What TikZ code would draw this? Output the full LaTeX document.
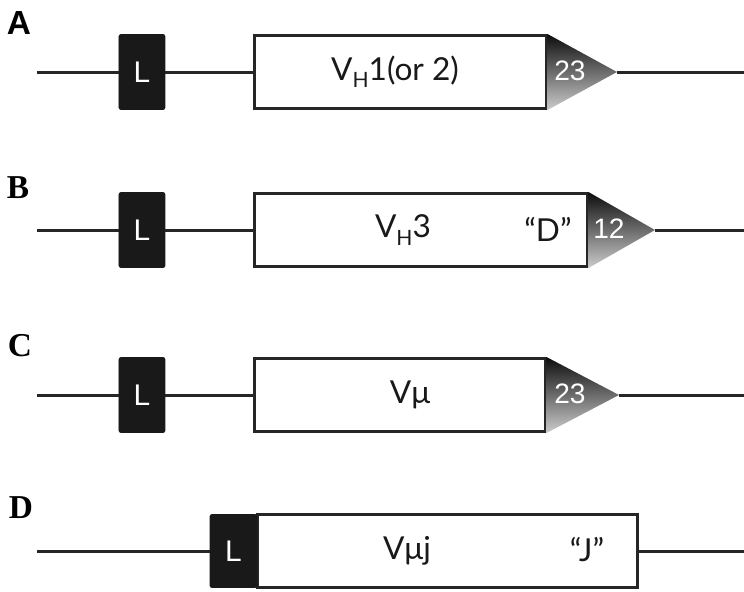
\documentclass[tikz,border=0pt]{standalone}
\usepackage{fontspec}
\setmainfont{Lato}
\newfontfamily\tagfont{Liberation Sans}
\newfontfamily\panelfont{Liberation Serif}
\newcommand{\hsub}{\raisebox{-0.45ex}{\fontsize{12}{14}\selectfont H}}
\begin{document}
\begin{tikzpicture}[
    dnaline/.style={line width=0.06cm, draw=black!85},
    leader/.style={draw=black!90, fill=black!90, rounded corners=0.04cm,
        minimum width=0.92cm, minimum height=1.50cm, inner sep=0pt,
        text=white, font=\tagfont\fontsize{17}{19}\selectfont},
    segment/.style={draw=black!85, line width=0.06cm, fill=white,
        minimum height=1.46cm, inner sep=0pt},
    seglabel/.style={text=black!90, font=\fontsize{18}{20}\selectfont},
    rss/.style={top color=black!95, middle color=black!80, bottom color=black!20},
    rsslabel/.style={text=white, font=\tagfont\fontsize{16}{18}\selectfont},
    panel/.style={font=\panelfont\bfseries\fontsize{19}{21}\selectfont}
  ]
  \useasboundingbox (0,0) rectangle (14.880000,11.820000);
  {

  % Drawing row A
  \coordinate (sA) at (0.740000,10.380000);%
  \coordinate (tA) at (12.340000,10.380000);%
  \coordinate (eA) at (14.880000,10.380000);%
  \node [segment, minimum width=5.840000cm] (vA) at (8.000000,10.380000) {};%
  \node [leader] (lA) at (2.840000,10.380000) {L};%
  \draw [dnaline] (sA) -- (lA);%
  \draw [dnaline] (lA) -- (vA);%
  \shade [rss] (vA.north east) -- (tA) -- (vA.south east) -- cycle;%
  \draw [dnaline] (tA) -- (eA);%
  \node [seglabel] (gA) at (7.900000,10.380000) {V\hsub1(or 2)};%
  \node [rsslabel] (nA) at (11.400000,10.400000) {23};%
  \node [panel, font=\tagfont\bfseries\fontsize{19}{21}\selectfont] (pA) at (0.380000,11.360000) {A};%

  % Drawing row B
  \coordinate (sB) at (0.740000,7.220000);%
  \coordinate (tB) at (13.100000,7.220000);%
  \coordinate (eB) at (14.880000,7.220000);%
  \node [segment, minimum width=6.660000cm] (vB) at (8.410000,7.220000) {};%
  \node [leader] (lB) at (2.840000,7.220000) {L};%
  \draw [dnaline] (sB) -- (lB);%
  \draw [dnaline] (lB) -- (vB);%
  \shade [rss] (vB.north east) -- (tB) -- (vB.south east) -- cycle;%
  \draw [dnaline] (tB) -- (eB);%
  \node [seglabel] (gB) at (8.060000,7.220000) {V\hsub3};%
  \node [seglabel] (qB) at (10.960000,7.240000) {“D”};%
  \node [rsslabel] (nB) at (12.180000,7.240000) {12};%
  \node [panel] (pB) at (0.360000,8.060000) {B};%

  % Drawing row C
  \coordinate (sC) at (0.740000,3.920000);%
  \coordinate (tC) at (12.380000,3.920000);%
  \coordinate (eC) at (14.880000,3.920000);%
  \node [segment, minimum width=5.820000cm] (vC) at (7.990000,3.920000) {};%
  \node [leader] (lC) at (2.840000,3.920000) {L};%
  \draw [dnaline] (sC) -- (lC);%
  \draw [dnaline] (lC) -- (vC);%
  \shade [rss] (vC.north east) -- (tC) -- (vC.south east) -- cycle;%
  \draw [dnaline] (tC) -- (eC);%
  \node [seglabel] (gC) at (8.200000,3.920000) {Vμ};%
  \node [rsslabel] (nC) at (11.400000,3.940000) {23};%
  \node [panel] (pC) at (0.400000,4.900000) {C};%

  % Drawing row D
  \coordinate (sD) at (0.740000,0.800000);%
  \coordinate (eD) at (14.880000,0.800000);%
  \node [segment, minimum width=7.600000cm] (vD) at (8.940000,0.800000) {};%
  \node [leader, minimum width=0.940000cm, minimum height=1.460000cm] (lD) at (4.670000,0.800000) {L};%
  \draw [dnaline] (sD) -- (lD);%
  \draw [dnaline] (vD) -- (eD);%
  \node [seglabel] (gD) at (8.140000,0.800000) {Vμj};%
  \node [seglabel] (qD) at (11.740000,0.820000) {“J”};%
  \node [panel] (pD) at (0.420000,1.660000) {D};%
  }
\end{tikzpicture}
\end{document}
